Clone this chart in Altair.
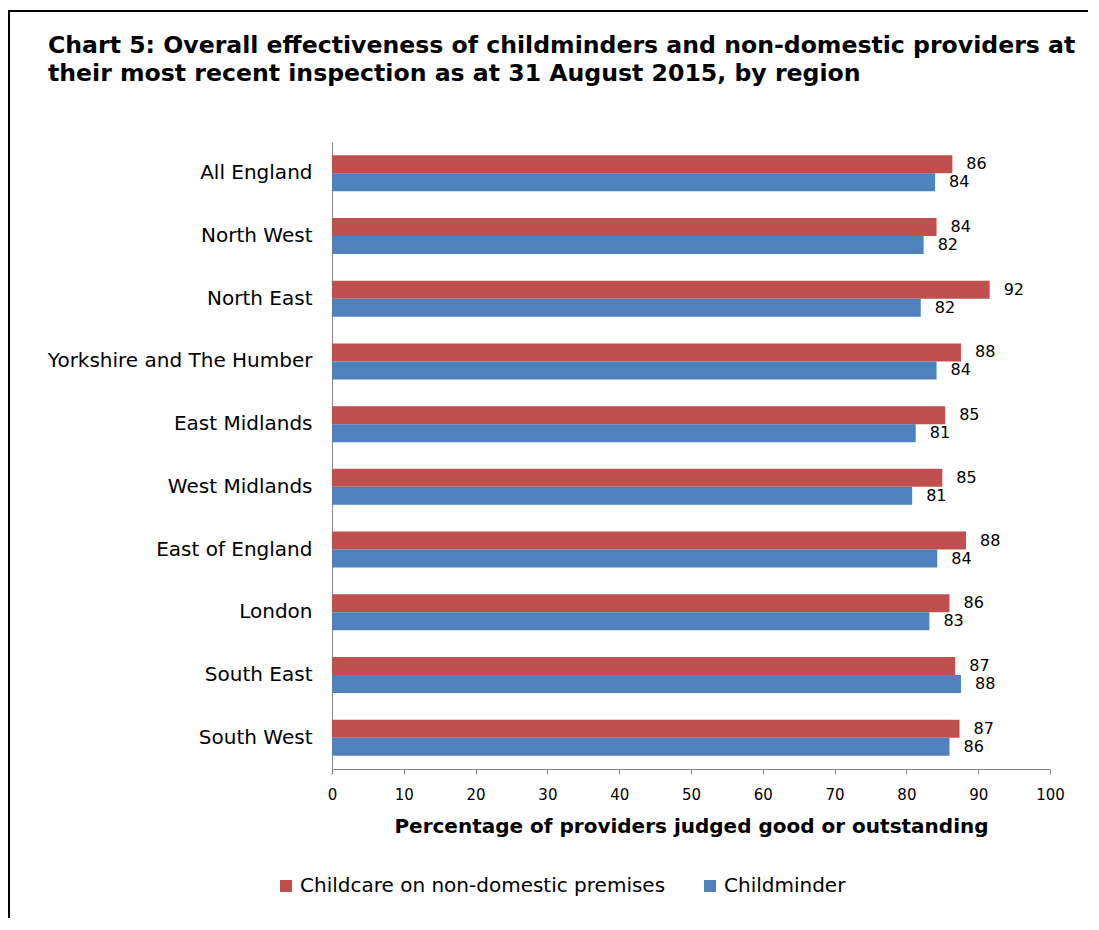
import altair as alt
import pandas as pd

regions = ["All England", "North West", "North East", "Yorkshire and The Humber",
           "East Midlands", "West Midlands", "East of England", "London",
           "South East", "South West"]
series = ["Childcare on non-domestic premises", "Childminder"]
nondomestic = [86.4, 84.2, 91.6, 87.6, 85.4, 85.0, 88.3, 86.0, 86.8, 87.4]
childminder = [84.0, 82.4, 82.0, 84.2, 81.3, 80.8, 84.3, 83.2, 87.6, 86.0]
nondomestic_labels = [86, 84, 92, 88, 85, 85, 88, 86, 87, 87]
childminder_labels = [84, 82, 82, 84, 81, 81, 84, 83, 88, 86]
x_ticks = [0, 10, 20, 30, 40, 50, 60, 70, 80, 90, 100]
colors = ["#C0504D", "#4F81BD"]

title_lines = [
    "Chart 5: Overall effectiveness of childminders and non-domestic providers at",
    "their most recent inspection as at 31 August 2015, by region",
]

rows = []
for i, r in enumerate(regions):
    rows.append(dict(region=r, series=series[0], value=nondomestic[i], label=str(nondomestic_labels[i])))
    rows.append(dict(region=r, series=series[1], value=childminder[i], label=str(childminder_labels[i])))
df = pd.DataFrame(rows)

FONT = "DejaVu Sans"

x_enc = alt.X("value:Q", scale=alt.Scale(domain=[0, 100], nice=False),
              axis=alt.Axis(values=x_ticks, title="Percentage of providers judged good or outstanding",
                            grid=False, tickSize=5, tickColor="#868686", domainColor="#868686",
                            labelFont=FONT, labelFontSize=15, labelColor="#000", labelPadding=13,
                            labelFlush=False,
                            titleFont=FONT, titleFontSize=20, titleFontWeight="bold", titleColor="#000",
                            titlePadding=14))
y_enc = alt.Y("region:N", sort=regions, title=None,
              scale=alt.Scale(paddingInner=0.426, paddingOuter=0.213),
              axis=alt.Axis(ticks=False, domainColor="#868686", labelFont=FONT, labelFontSize=20,
                            labelColor="#000", labelPadding=20, labelLimit=400))
yoff = alt.YOffset("series:N", sort=series, scale=alt.Scale(paddingInner=0, paddingOuter=0))

bars = alt.Chart(df).mark_bar().encode(
    x=x_enc, y=y_enc, yOffset=yoff,
    color=alt.Color("series:N", sort=series,
                    scale=alt.Scale(domain=series, range=colors),
                    legend=alt.Legend(title=None, orient="none", legendX=-56, legendY=734,
                                      direction="horizontal", symbolType="square", symbolSize=144,
                                      symbolStrokeWidth=0, labelFont=FONT, labelFontSize=20,
                                      labelColor="#000", columnPadding=34, labelLimit=500)),
)

texts = alt.Chart(df).mark_text(align="left", baseline="middle", dx=14, font=FONT,
                                fontSize=16, color="#000").encode(
    x="value:Q", y=alt.Y("region:N", sort=regions), yOffset=alt.YOffset("series:N", sort=series), text="label:N"
)

frame = alt.Chart(pd.DataFrame({"a": [0]})).mark_rect(filled=False, stroke="#000", strokeWidth=2).encode(
    x=alt.value(-323), x2=alt.value(1000), y=alt.value(-131), y2=alt.value(1000)
)

chart = alt.layer(frame, bars, texts).properties(
    width=718, height=627,
    autosize=alt.AutoSizeParams(type="none"),
    padding={"left": 324, "top": 134, "right": 38, "bottom": 149},
    title=alt.TitleParams(text=title_lines, anchor="start", frame="group", dx=-284, offset=-76,
                          font=FONT, fontSize=23.6, fontWeight="bold", color="#000", lineHeight=28),
).configure_view(stroke=None)

chart.save("out.html", embed_options={"renderer": "svg", "actions": False})
